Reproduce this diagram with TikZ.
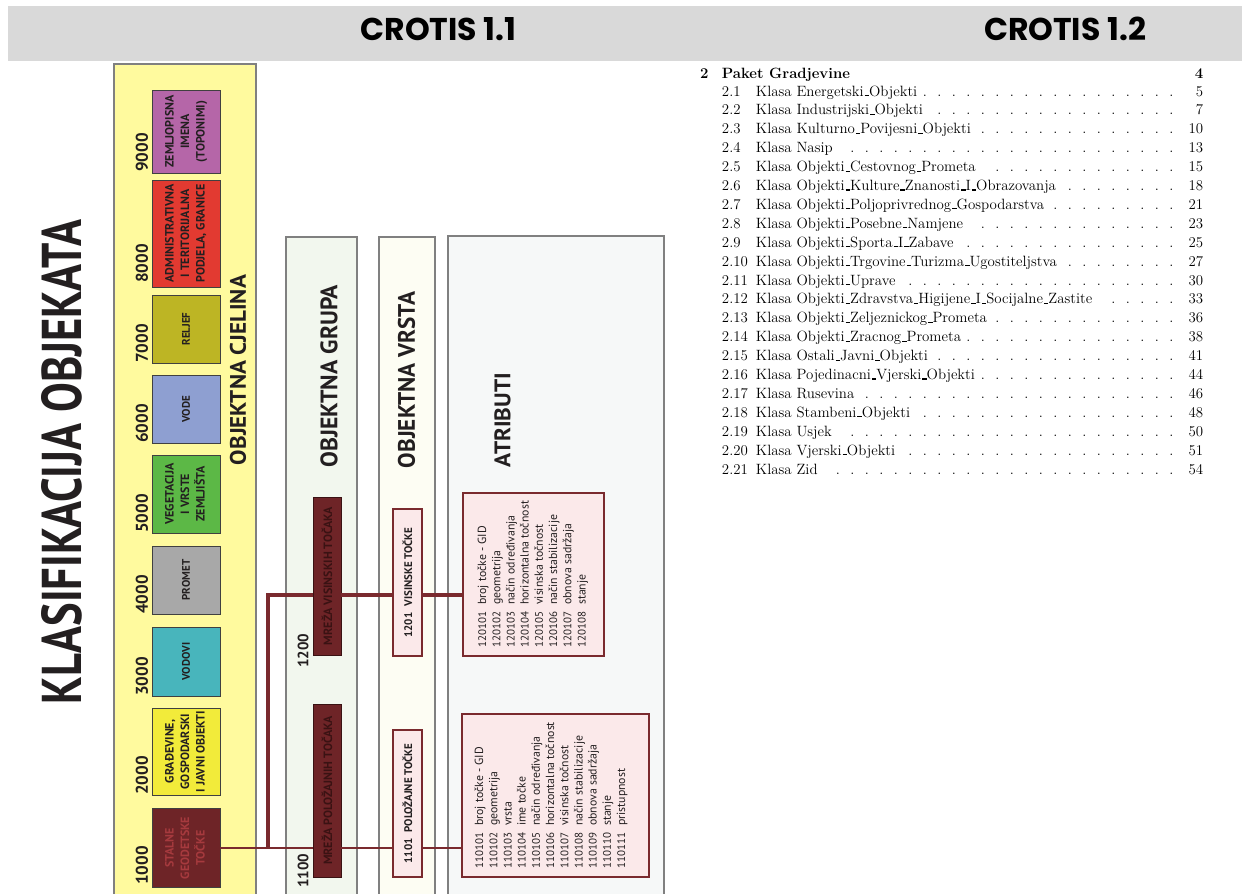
\documentclass[tikz,border=0pt]{standalone}
\usepackage{fontspec}
\usepackage{graphicx}
\usepackage{array}
\newfontfamily\pts{PT Sans}
\newfontfamily\pop{Poppins}
\usetikzlibrary{calc}
\definecolor{hdr}{HTML}{D9D9D9}
\definecolor{cyel}{HTML}{FFFA9E}
\definecolor{pgray}{HTML}{808080}
\definecolor{bgray}{HTML}{404040}
\definecolor{c9000}{HTML}{B566A8}
\definecolor{c8000}{HTML}{E23A31}
\definecolor{c7000}{HTML}{BDB524}
\definecolor{c6000}{HTML}{8E9FD1}
\definecolor{c5000}{HTML}{5CB846}
\definecolor{c4000}{HTML}{A8A8A8}
\definecolor{c3000}{HTML}{48B5BC}
\definecolor{c2000}{HTML}{F2EB3A}
\definecolor{c1000}{HTML}{6E2427}
\definecolor{t1000}{HTML}{A63A3E}
\definecolor{lblk}{HTML}{231F20}
\definecolor{cgrp}{HTML}{F2F7EE}
\definecolor{cvrs}{HTML}{FDFDF3}
\definecolor{catr}{HTML}{F6F8F8}
\definecolor{cpink}{HTML}{FBE9EA}
\definecolor{cline}{HTML}{7A2A2E}
\definecolor{gtext}{HTML}{3A1213}
\newcommand\rtab[1]{\rotatebox{90}{\begin{tabular}{@{}c@{}}#1\end{tabular}}}
\newcommand\atab[1]{\rotatebox{90}{\begin{tabular}{@{}l@{\hspace{7pt}}>{\fontsize{11.8}{14.2}\selectfont}l@{}}#1\end{tabular}}}
\newcommand\us{\kern.06em\vrule width .3em height 1.1pt depth 0pt\relax}
\newcommand\tocrow[5]{\node[toc] (#1) at (700,#2) {\hbox to 503pt{\hskip21.75pt\hbox to 34pt{#3\hfil}#4\leaders\hbox to 14.5pt{\hss.\hss}\hfill\hbox to 22.5pt{\hfil#5}}};}
\tikzset{
  panel/.style={draw=pgray, line width=1.5pt},
  cbox/.style={draw=bgray, line width=0.8pt, minimum width=68pt, inner sep=0pt, text=lblk,
    font=\pts\bfseries\fontsize{12}{15.5}\selectfont},
  cboxs/.style={cbox, font=\pts\bfseries\fontsize{11}{14}\selectfont},
  num/.style={rotate=90, anchor=west, inner sep=0pt, text=lblk, font=\pts\bfseries\fontsize{17}{17}\selectfont},
  numg/.style={num, font=\pts\bfseries\fontsize{15}{15}\selectfont},
  ttl/.style={rotate=90, inner sep=0pt, text=lblk, font=\pts\bfseries},
  gbox/.style={draw=gtext, line width=0.8pt, fill=c1000, minimum width=28pt, inner sep=0pt, text=gtext,
    font=\pts\bfseries\fontsize{12}{12}\selectfont},
  vbox/.style={draw=cline, line width=2pt, fill=cpink, minimum width=29pt, minimum height=147pt, inner sep=0pt,
    text=lblk, font=\pts\bfseries\fontsize{11}{11}\selectfont},
  abox/.style={draw=cline, line width=2pt, fill=cpink, minimum height=163pt, inner sep=0pt},
  atxt/.style={anchor=south west, inner sep=0pt, text=lblk, font=\pts\fontsize{11}{14.2}\selectfont},
  connA/.style={draw=cline, line width=2pt},
  connB/.style={draw=cline, line width=3.6pt, line join=miter},
  hdrtxt/.style={inner sep=0pt, font=\pop\bfseries\fontsize{31.5}{31.5}\selectfont, text=black},
  toc/.style={anchor=base west, inner sep=0pt, text=black, font=\fontsize{14.9}{18.9}\selectfont}
}
\begin{document}
\begin{tikzpicture}[x=1pt, y=-1pt]
\useasboundingbox (0,0) rectangle (1242,894);
\clip (0,0) rectangle (1242,894);
\fill[white] (0,0) rectangle (1242,894);
% header
\fill[hdr] (8,6) rectangle (1242,61);
\node[hdrtxt] (h11) at (438.5,29) {CROTIS 1.1};
\node[hdrtxt] (h12) at (1065,29) {CROTIS 1.2};
% main title
\node[ttl] (klas) at (62,462) {\resizebox{485pt}{40pt}{KLASIFIKACIJA OBJEKATA}};
% panels
\filldraw[panel, fill=cyel] (114,64) rectangle (256,910);
\filldraw[panel, fill=cgrp] (286,237) rectangle (357,910);
\filldraw[panel, fill=cvrs] (379,237) rectangle (435,910);
\filldraw[panel, fill=catr] (448,236) rectangle (664,910);
\node[ttl] (tcj) at (238,370) {\resizebox{190pt}{16pt}{OBJEKTNA CJELINA}};
\node[ttl] (tgr) at (329,376) {\resizebox{182pt}{17pt}{OBJEKTNA GRUPA}};
\node[ttl] (tvr) at (406.5,380) {\resizebox{176pt}{17pt}{OBJEKTNA VRSTA}};
\node[ttl] (tat) at (502.5,420) {\resizebox{94pt}{16pt}{ATRIBUTI}};
% objektna cjelina boxes
\node[cbox, fill=c9000, minimum height=83pt] (c9000) at (186,131.5) {\rtab{ZEMLJOPISNA\\IMENA\\(TOPONIMI)}};
\node[cbox, fill=c8000, minimum height=107pt] (c8000) at (186,233.5) {\rtab{ADMINISTRATIVNA\\I TERITORIJALNA\\PODJELA, GRANICE}};
\node[cboxs, fill=c7000, minimum height=68pt] (c7000) at (186,329) {\rotatebox{90}{RELJEF}};
\node[cboxs, fill=c6000, minimum height=68pt] (c6000) at (186,409) {\rotatebox{90}{VODE}};
\node[cbox, fill=c5000, minimum height=78pt] (c5000) at (186,494) {\rtab{VEGETACIJA\\I VRSTE\\ZEMLJIŠTA}};
\node[cboxs, fill=c4000, minimum height=68pt] (c4000) at (186,580) {\rotatebox{90}{PROMET}};
\node[cboxs, fill=c3000, minimum height=69pt] (c3000) at (186,661.5) {\rotatebox{90}{VODOVI}};
\node[cbox, fill=c2000, minimum height=87pt] (c2000) at (186,751.5) {\rtab{GRAĐEVINE,\\GOSPODARSKI\\I JAVNI OBJEKTI}};
\node[cbox, fill=c1000, minimum height=79pt, text=t1000] (c1000) at (186,848) {\rtab{STALNE\\GEODETSKE\\TOČKE}};
\node[num] (n9000) at (142,172) {9000};
\node[num] (n8000) at (142,283) {8000};
\node[num] (n7000) at (142,363) {7000};
\node[num] (n6000) at (142,443) {6000};
\node[num] (n5000) at (142,533) {5000};
\node[num] (n4000) at (142,614) {4000};
\node[num] (n3000) at (142,696) {3000};
\node[num] (n2000) at (142,795) {2000};
\node[num] (n1000) at (142,885) {1000};
% objektna grupa
\node[gbox, minimum height=158pt] (g1200) at (327,576) {\rotatebox{90}{MREŽA VISINSKIH TOČAKA}};
\node[gbox, minimum height=173pt] (g1100) at (327,790.5) {\rotatebox{90}{MREŽA POLOŽAJNIH TOČAKA}};
\node[numg] (n1200) at (303,668) {1200};
\node[numg] (n1100) at (303,888) {1100};
% objektna vrsta
\node[vbox] (v1201) at (407.5,582.5) {\rotatebox{90}{1201\hspace{6pt}VISINSKE TOČKE}};
\node[vbox] (v1101) at (407.5,803.5) {\rotatebox{90}{1101\hspace{6pt}POLOŽAJNE TOČKE}};
% atributi
\node[abox, minimum width=141pt] (a1201) at (533.5,574.5) {};
\node[abox, minimum width=187pt] (a1101) at (555.5,795.5) {};
\node[atxt] (l1201) at ($(a1201.south west)+(14,-9)$) {\atab{120101 & broj točke - GID\\120102 & geometrija\\120103 & način određivanja\\120104 & horizontalna točnost\\120105 & visinska točnost\\120106 & način stabilizacije\\120107 & obnova sadržaja\\120108 & stanje}};
\node[atxt] (l1101) at ($(a1101.south west)+(12,-9)$) {\atab{110101 & broj točke - GID\\110102 & geometrija\\110103 & vrsta\\110104 & ime točke\\110105 & način određivanja\\110106 & horizontalna točnost\\110107 & visinska točnost\\110108 & način stabilizacije\\110109 & obnova sadržaja\\110110 & stanje\\110111 & pristupnost}};
% connectors
\coordinate (j1) at (268,848);
\coordinate (j2) at (268,595);
\draw[connB] (j1) -- (j2) -- (g1200.west |- j2);
\draw[connB] (g1200.east |- j2) -- (v1201.west |- j2);
\draw[connB] (v1201.east |- j2) -- (a1201.west |- j2);
\draw[connA] (c1000.east) -- (g1100.west |- c1000.east);
\draw[connA] (g1100.east |- c1000.east) -- (v1101.west |- c1000.east);
\draw[connA] (v1101.east |- c1000.east) -- (a1101.west |- c1000.east);
% table of contents
\node[toc] (s2) at (700,78) {\hbox to 503pt{\bfseries\hbox to 21.75pt{2\hfil}Paket Gradjevine\hfil 4}};
\tocrow{r1}{96}{2.1}{Klasa Energetski\us Objekti}{5}
\tocrow{r2}{114.9}{2.2}{Klasa Industrijski\us Objekti}{7}
\tocrow{r3}{133.8}{2.3}{Klasa Kulturno\us Povijesni\us Objekti}{10}
\tocrow{r4}{152.7}{2.4}{Klasa Nasip}{13}
\tocrow{r5}{171.6}{2.5}{Klasa Objekti\us Cestovnog\us Prometa}{15}
\tocrow{r6}{190.5}{2.6}{Klasa Objekti\us Kulture\us Znanosti\us I\us Obrazovanja}{18}
\tocrow{r7}{209.4}{2.7}{Klasa Objekti\us Poljoprivrednog\us Gospodarstva}{21}
\tocrow{r8}{228.3}{2.8}{Klasa Objekti\us Posebne\us Namjene}{23}
\tocrow{r9}{247.2}{2.9}{Klasa Objekti\us Sporta\us I\us Zabave}{25}
\tocrow{r10}{266.1}{2.10}{Klasa Objekti\us Trgovine\us Turizma\us Ugostiteljstva}{27}
\tocrow{r11}{285}{2.11}{Klasa Objekti\us Uprave}{30}
\tocrow{r12}{303.9}{2.12}{Klasa Objekti\us Zdravstva\us Higijene\us I\us Socijalne\us Zastite}{33}
\tocrow{r13}{322.8}{2.13}{Klasa Objekti\us Zeljeznickog\us Prometa}{36}
\tocrow{r14}{341.7}{2.14}{Klasa Objekti\us Zracnog\us Prometa}{38}
\tocrow{r15}{360.6}{2.15}{Klasa Ostali\us Javni\us Objekti}{41}
\tocrow{r16}{379.5}{2.16}{Klasa Pojedinacni\us Vjerski\us Objekti}{44}
\tocrow{r17}{398.4}{2.17}{Klasa Rusevina}{46}
\tocrow{r18}{417.3}{2.18}{Klasa Stambeni\us Objekti}{48}
\tocrow{r19}{436.2}{2.19}{Klasa Usjek}{50}
\tocrow{r20}{455.1}{2.20}{Klasa Vjerski\us Objekti}{51}
\tocrow{r21}{474}{2.21}{Klasa Zid}{54}
\end{tikzpicture}
\end{document}
